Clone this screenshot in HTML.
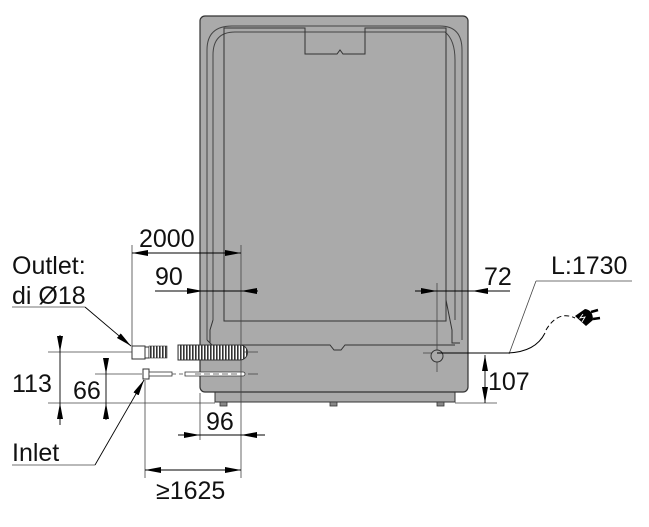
<!DOCTYPE html>
<html><head><meta charset="utf-8"><style>
html,body{margin:0;padding:0;background:#fff;}
svg{display:block;}
text{font-family:"Liberation Sans",sans-serif;font-size:25px;fill:#111;}
</style></head><body>
<svg width="649" height="527" viewBox="0 0 649 527" xmlns="http://www.w3.org/2000/svg">
<defs>
<marker id="b" viewBox="0 0 16 6" refX="16" refY="3" markerWidth="16" markerHeight="6" orient="auto-start-reverse" markerUnits="userSpaceOnUse"><path d="M0,0L16,3L0,6z" fill="#000"/></marker>
<pattern id="cor" width="3" height="16" patternUnits="userSpaceOnUse"><rect width="3" height="16" fill="#fff"/><rect width="1.6" height="16" fill="#333"/></pattern>
</defs>
<!-- appliance -->
<rect x="215" y="390" width="240" height="12" fill="#aaa" stroke="#333" stroke-width="1"/>
<rect x="220" y="402" width="7" height="4" fill="#888" stroke="#333" stroke-width="0.8"/>
<rect x="330" y="402" width="7" height="4" fill="#888" stroke="#333" stroke-width="0.8"/>
<rect x="437" y="402" width="7" height="4" fill="#888" stroke="#333" stroke-width="0.8"/>
<rect x="200" y="16" width="268" height="376" rx="5" fill="#aaa" stroke="#333" stroke-width="1.2"/>
<path d="M207,340 V50 Q207,26 232,26 H440 Q462,26 462,50 V340" fill="none" stroke="#444" stroke-width="1"/>
<path d="M213,320 V55 Q213,32 235,32 H445 Q455,40 455,60 V320" fill="none" stroke="#444" stroke-width="1"/>
<path d="M224,321 V28 H305 V54 L337,54 L340,50 L343,54 L365,54 V28 H446 V321 Z" fill="none" stroke="#333" stroke-width="1"/>
<path d="M446,300 L452,330 V343 H460" fill="none" stroke="#333" stroke-width="1"/>
<path d="M207,340 L212,345 H330 L334,350 H341 L345,345 H455" fill="none" stroke="#333" stroke-width="1"/>
<path d="M213,320 L210,330 V343" fill="none" stroke="#333" stroke-width="1"/>
<!-- hoses -->
<rect x="132" y="346" width="13" height="13" fill="#fff" stroke="#333"/>
<rect x="145" y="347" width="4" height="11" fill="#fff" stroke="#333"/>
<rect x="149" y="346" width="18" height="12" fill="url(#cor)" stroke="#333" stroke-width="0.6"/>
<path d="M178,345 H240 A7.5,7.5 0 0 1 240,360 H178 Z" fill="url(#cor)" stroke="#333"/>
<rect x="143" y="369" width="6" height="10" fill="#fff" stroke="#333"/>
<rect x="149" y="372" width="23" height="4" fill="#fff" stroke="#333" stroke-width="0.8"/>
<path d="M185,372 H243 A2,2 0 0 1 243,376 H185 Z" fill="#fff" stroke="#333" stroke-width="0.8"/>
<!-- extension lines -->
<g stroke="#444" stroke-width="0.8" fill="none">
<line x1="132" y1="245" x2="132" y2="346"/>
<line x1="241" y1="245" x2="241" y2="478"/>
<line x1="145" y1="380" x2="145" y2="478"/>
<line x1="48" y1="352" x2="132" y2="352"/>
<line x1="243" y1="352" x2="258" y2="352"/>
<line x1="95" y1="374" x2="142" y2="374"/>
<line x1="172" y1="374" x2="185" y2="374" stroke-dasharray="4,3"/>
<line x1="195" y1="374" x2="240" y2="374" stroke-dasharray="6,3"/>
<line x1="248" y1="374" x2="258" y2="374"/>
<line x1="48" y1="403" x2="215" y2="403"/>
<line x1="200" y1="393" x2="200" y2="440"/>
<line x1="437" y1="283" x2="437" y2="372"/>
<line x1="423" y1="353" x2="437" y2="353"/>
<line x1="455" y1="403" x2="497" y2="403"/>
<line x1="12" y1="307" x2="85" y2="307"/>
<line x1="12" y1="465" x2="95" y2="465"/>
<line x1="536" y1="281" x2="632" y2="281"/>
<line x1="536" y1="281" x2="509" y2="354"/>
</g>
<!-- dimension lines -->
<g stroke="#000" stroke-width="0.9" fill="none">
<line x1="132" y1="253" x2="241" y2="253" marker-start="url(#b)" marker-end="url(#b)"/>
<line x1="155" y1="291" x2="203" y2="291" marker-end="url(#b)"/>
<line x1="203" y1="291" x2="241" y2="291"/>
<line x1="258" y1="291" x2="241" y2="291" marker-end="url(#b)"/>
<line x1="415" y1="291" x2="437" y2="291" marker-end="url(#b)"/>
<line x1="437" y1="291" x2="472" y2="291"/>
<line x1="510" y1="291" x2="472" y2="291" marker-end="url(#b)"/>
<line x1="60" y1="335" x2="60" y2="352" marker-end="url(#b)"/>
<line x1="60" y1="352" x2="60" y2="403"/>
<line x1="60" y1="425" x2="60" y2="403" marker-end="url(#b)"/>
<line x1="106" y1="358" x2="106" y2="374" marker-end="url(#b)"/>
<line x1="106" y1="374" x2="106" y2="403"/>
<line x1="106" y1="420" x2="106" y2="403" marker-end="url(#b)"/>
<line x1="178" y1="435" x2="200" y2="435" marker-end="url(#b)"/>
<line x1="200" y1="435" x2="241" y2="435"/>
<line x1="265" y1="435" x2="241" y2="435" marker-end="url(#b)"/>
<line x1="145" y1="470" x2="241" y2="470" marker-start="url(#b)" marker-end="url(#b)"/>
<line x1="485" y1="355" x2="485" y2="403" marker-start="url(#b)" marker-end="url(#b)"/>
<line x1="85" y1="307" x2="131" y2="346" marker-end="url(#b)"/>
<line x1="95" y1="465" x2="144" y2="380" marker-end="url(#b)"/>
</g>
<!-- keyhole & cord -->
<circle cx="437" cy="356" r="6" fill="#aaa" stroke="#333"/>
<path d="M437,353 H505 Q535,353 545,333" fill="none" stroke="#000" stroke-width="1"/>
<path d="M546,330 Q558,310 575,318" fill="none" stroke="#000" stroke-width="1" stroke-dasharray="5,3"/>
<path d="M575,316 L585,309 Q593,310 593,320 L586,326 Z" fill="#000"/>
<line x1="591" y1="312" x2="598" y2="310" stroke="#000" stroke-width="2.5"/>
<line x1="593" y1="319" x2="600" y2="318" stroke="#000" stroke-width="2.5"/>
<path d="M583,314 L580,318 L585,317 L582,322" stroke="#fff" stroke-width="0.9" fill="none"/>
<!-- text -->
<text x="139" y="247">2000</text>
<text x="155" y="285">90</text>
<text x="484" y="285">72</text>
<text x="551" y="274">L:1730</text>
<text x="12" y="274">Outlet:</text>
<text x="12" y="304">di Ø18</text>
<text x="12" y="392">113</text>
<text x="73" y="399">66</text>
<text x="488" y="390">107</text>
<text x="206" y="430">96</text>
<text x="12" y="461">Inlet</text>
<text x="156" y="499">≥1625</text>
</svg>
</body></html>
